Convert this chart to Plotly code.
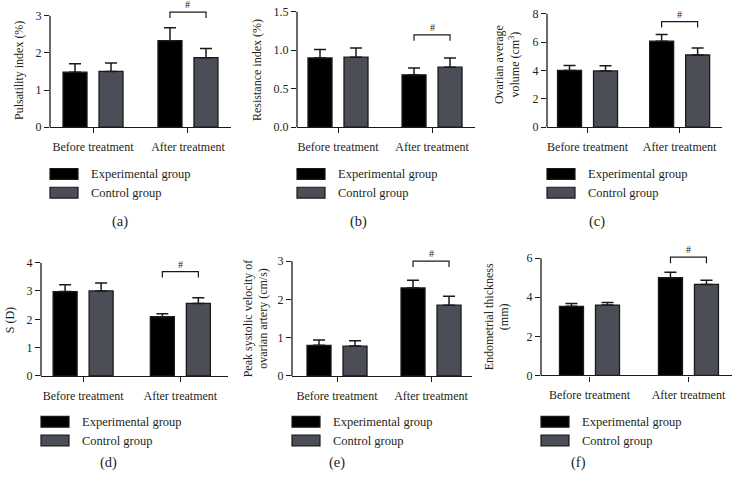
import plotly.graph_objects as go

W, H = 732, 483

categories = ["Before treatment", "After treatment"]
series_names = ["Experimental group", "Control group"]
panel_labels = ["(a)", "(b)", "(c)", "(d)", "(e)", "(f)"]
y_titles = [
    "Pulsatility index (%)",
    "Resistance index (%)",
    "Ovarian average<br>volume (cm<sup>3</sup>)",
    "S (D)",
    "Peak systolic velocity of<br>ovarian artery (cm/s)",
    "Endometrial thickness<br>(mm)",
]

# (a) Pulsatility index
pi_exp = [1.48, 2.33]
pi_exp_sd = [0.23, 0.35]
pi_ctl = [1.50, 1.87]
pi_ctl_sd = [0.23, 0.25]
# (b) Resistance index
ri_exp = [0.90, 0.68]
ri_exp_sd = [0.11, 0.09]
ri_ctl = [0.91, 0.78]
ri_ctl_sd = [0.12, 0.12]
# (c) Ovarian average volume
vol_exp = [4.00, 6.07]
vol_exp_sd = [0.35, 0.46]
vol_ctl = [3.97, 5.09]
vol_ctl_sd = [0.36, 0.49]
# (d) S (D)
sd_exp = [2.98, 2.09]
sd_exp_sd = [0.24, 0.11]
sd_ctl = [3.00, 2.56]
sd_ctl_sd = [0.28, 0.20]
# (e) Peak systolic velocity
psv_exp = [0.80, 2.30]
psv_exp_sd = [0.14, 0.20]
psv_ctl = [0.78, 1.85]
psv_ctl_sd = [0.14, 0.23]
# (f) Endometrial thickness
et_exp = [3.54, 5.00]
et_exp_sd = [0.14, 0.28]
et_ctl = [3.60, 4.66]
et_ctl_sd = [0.13, 0.21]

y_tick_values = [
    [0, 1, 2, 3],
    [0.0, 0.5, 1.0, 1.5],
    [0, 2, 4, 6, 8],
    [0, 1, 2, 3, 4],
    [0, 1, 2, 3],
    [0, 2, 4, 6],
]
y_tick_formats = ["d", ".1f", "d", "d", "d", "d"]
bracket_y = [3.10, 1.20, 7.45, 3.68, 3.00, 6.05]
sig_mark = "#"

panels = [
    (pi_exp, pi_exp_sd, pi_ctl, pi_ctl_sd),
    (ri_exp, ri_exp_sd, ri_ctl, ri_ctl_sd),
    (vol_exp, vol_exp_sd, vol_ctl, vol_ctl_sd),
    (sd_exp, sd_exp_sd, sd_ctl, sd_ctl_sd),
    (psv_exp, psv_exp_sd, psv_ctl, psv_ctl_sd),
    (et_exp, et_exp_sd, et_ctl, et_ctl_sd),
]

# ---- layout geometry (pixels) ----
# x0 (y-axis), x1 (x-axis end), y bottom (value 0), y of top tick, x range
boxes = [
    (50, 231, 129, 16, [-0.453, 1.453]),
    (297, 475, 129, 12, [-0.436, 1.457]),
    (547, 722, 129, 14, [-0.44, 1.46]),
    (41, 228, 381.5, 266.5, [-0.433, 1.49]),
    (292, 472, 381.5, 265, [-0.479, 1.436]),
    (541, 732, 381, 262, [-0.49, 1.44]),
]
label_pos = [(120, 225), (358, 225), (597, 225), (108, 469), (337, 469), (578, 469)]
ytitle_pos = [(19, 72), (257, 71), (507, 66), (10, 325), (256, 323), (497, 322)]
legend_rows = {0: (176.5, 195.5), 1: (428, 447)}

EXTRA = 1.08
FONT = "Liberation Serif"
TXT = "#231f20"
COL_EXP = "#000000"
COL_CTL = "#4b4e56"
LINE = "#1a1a1a"


def px2fx(px):
    return px / W


def px2fy(py):
    return 1 - py / H


fig = go.Figure()
shapes = []
annotations = []

for i, (exp, exp_sd, ctl, ctl_sd) in enumerate(panels):
    n = "" if i == 0 else str(i + 1)
    xa, ya = "x" + n, "y" + n
    x0, x1, yb, yt, xr = boxes[i]
    unit = (x1 - x0) / (xr[1] - xr[0])  # px per category unit
    bw = 24 / unit
    off_exp = -30 / unit
    off_ctl = 6 / unit
    ymaxtick = y_tick_values[i][-1]
    ytop_range = ymaxtick * EXTRA
    ytop_px = yb - (yb - yt) * EXTRA
    pxu = (yb - yt) / ymaxtick  # px per data unit

    for name, vals, sds, col, off in [
        (series_names[0], exp, exp_sd, COL_EXP, off_exp),
        (series_names[1], ctl, ctl_sd, COL_CTL, off_ctl),
    ]:
        fig.add_trace(go.Bar(
            x=categories, y=vals, name=name, xaxis=xa, yaxis=ya,
            width=bw, offset=off,
            marker=dict(color=col, line=dict(color=LINE, width=1.3)),
            error_y=dict(type="data", array=sds, arrayminus=[0] * len(sds),
                         symmetric=False, color=LINE, thickness=1.5, width=6),
            showlegend=False,
        ))

    fig.layout["xaxis" + n] = dict(
        domain=[px2fx(x0), px2fx(x1)], anchor=ya, type="category",
        range=xr, showline=True, linecolor=LINE, linewidth=1.3,
        ticks="outside", ticklen=5, tickwidth=1.3, tickcolor=LINE,
        showgrid=False, zeroline=False, ticklabelstandoff=3,
        tickfont=dict(family=FONT, size=12, color=TXT),
    )
    fig.layout["yaxis" + n] = dict(
        domain=[px2fy(yb), px2fy(ytop_px)], anchor=xa,
        range=[0, ytop_range], showline=False,
        tickvals=y_tick_values[i], tickformat=y_tick_formats[i],
        ticks="outside", ticklen=5, tickwidth=1.3, tickcolor=LINE,
        showgrid=False, zeroline=False,
        tickfont=dict(family=FONT, size=12, color=TXT),
    )
    # y-axis line up to top tick
    shapes.append(dict(type="line", xref=xa + " domain", yref=ya + " domain",
                       x0=0, x1=0, y0=0, y1=1 / EXTRA,
                       line=dict(color=LINE, width=1.3)))
    # significance bracket between after-treatment bars
    cx_e = 1 + off_exp + bw / 2
    cx_c = 1 + off_ctl + bw / 2
    by = bracket_y[i]
    drop = 6 / pxu
    shapes.append(dict(type="path", xref=xa, yref=ya,
                       path=f"M {cx_e},{by - drop} L {cx_e},{by} L {cx_c},{by} L {cx_c},{by - drop}",
                       line=dict(color=LINE, width=1.2)))
    annotations.append(dict(x=(cx_e + cx_c) / 2, y=by, xref=xa, yref=ya,
                            text=sig_mark, showarrow=False, yanchor="bottom", yshift=0,
                            font=dict(family=FONT, size=10, color=TXT)))
    # y title
    tx, ty = ytitle_pos[i]
    annotations.append(dict(x=px2fx(tx), y=px2fy(ty), xref="paper", yref="paper",
                            text=y_titles[i], textangle=-90, showarrow=False,
                            xanchor="center", yanchor="middle",
                            font=dict(family=FONT, size=12, color=TXT)))
    # legend
    r1, r2 = legend_rows[i // 3]
    for (name, col, yc) in [(series_names[0], COL_EXP, r1), (series_names[1], COL_CTL, r2)]:
        shapes.append(dict(type="rect", xref="paper", yref="paper",
                           x0=px2fx(x0), x1=px2fx(x0 + 28),
                           y0=px2fy(yc + 5.5), y1=px2fy(yc - 5.5),
                           fillcolor=col, line=dict(color=LINE, width=1.2)))
        annotations.append(dict(x=px2fx(x0 + 39), y=px2fy(yc), xref="paper", yref="paper",
                                text=name, showarrow=False, xanchor="left", yanchor="middle",
                                font=dict(family=FONT, size=12.5, color=TXT)))
    # panel label
    lx, ly = label_pos[i]
    annotations.append(dict(x=px2fx(lx), y=px2fy(ly), xref="paper", yref="paper",
                            text=panel_labels[i], showarrow=False,
                            xanchor="center", yanchor="middle",
                            font=dict(family=FONT, size=14.5, color=TXT)))

fig.update_layout(
    width=W, height=H, margin=dict(l=0, r=0, t=0, b=0),
    paper_bgcolor="white", plot_bgcolor="white",
    barmode="overlay", showlegend=False,
    shapes=shapes, annotations=annotations,
)

fig.write_html("out.html", config={"displayModeBar": False},
               post_script="document.body.style.margin='0';document.body.style.overflow='hidden';")
